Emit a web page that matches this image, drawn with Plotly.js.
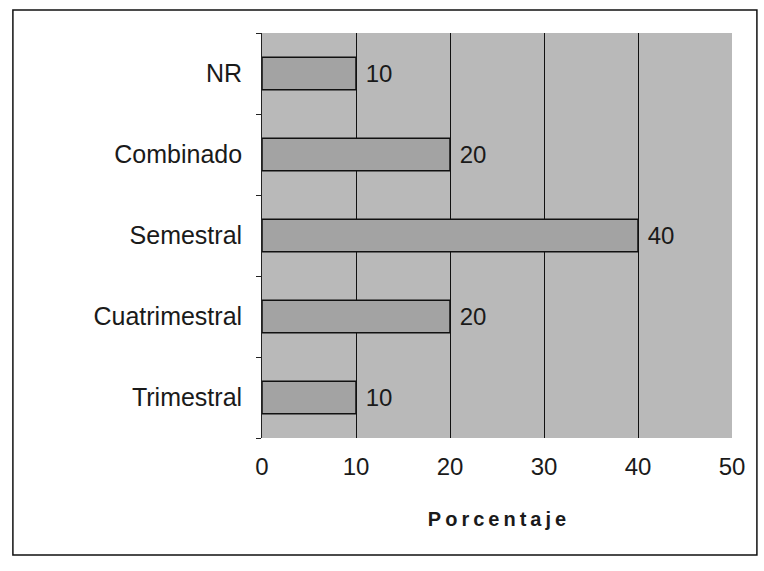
<!DOCTYPE html>
<html><head><meta charset="utf-8">
<script src="https://cdn.plot.ly/plotly-3.0.1.min.js"></script>
<style>body{margin:0;background:#fff}#c{width:764px;height:571px}</style>
</head><body><div id="c"></div>
<script>
const categories = ["Trimestral", "Cuatrimestral", "Semestral", "Combinado", "NR"];
const values = [10, 20, 40, 20, 10];
const xTicks = [0, 10, 20, 30, 40, 50];

const trace = {
  type: 'bar', orientation: 'h',
  x: values, y: categories,
  marker: {color: '#a3a3a3', line: {color: '#111', width: 1.5}},
  text: values.map(v => ' ' + v), textposition: 'outside',
  textfont: {family: 'Liberation Sans, Arial, sans-serif', size: 24, color: '#1a1a1a'},
  cliponaxis: false, hoverinfo: 'none'
};
const layout = {
  width: 764, height: 571,
  margin: {l: 262, r: 32, t: 33, b: 133},
  paper_bgcolor: '#ffffff', plot_bgcolor: '#b9b9b9',
  bargap: 0.6, showlegend: false,
  font: {family: 'Liberation Sans, Arial, sans-serif', color: '#1a1a1a', size: 24},
  xaxis: {range: [0, 50], tickvals: xTicks, ticktext: xTicks.map(String),
    showgrid: true, gridcolor: '#111', gridwidth: 1, zeroline: false,
    showline: false, ticks: '', ticklen: 0, tickfont: {size: 24}, ticklabelstandoff: 12,
    title: {text: '<b>P\u2009o\u2009r\u2009c\u2009e\u2009n\u2009t\u2009a\u2009j\u2009e</b>', font: {size: 20}, standoff: 32}},
  yaxis: {categoryorder: 'array', categoryarray: categories,
    showgrid: false, zeroline: false, showline: true, linecolor: '#222', linewidth: 1,
    ticks: 'outside', ticklen: 5, tickcolor: '#222', tickson: 'boundaries',
    tickfont: {size: 25}, ticksuffix: '  '},
  shapes: [{type: 'rect', xref: 'paper', yref: 'paper', x0: -0.53, x1: 1.053, y0: -0.289, y1: 1.057,
    line: {color: '#111', width: 1.5}, fillcolor: 'rgba(0,0,0,0)', layer: 'below'}]
};
Plotly.newPlot('c', [trace], layout, {staticPlot: true});
</script></body></html>
